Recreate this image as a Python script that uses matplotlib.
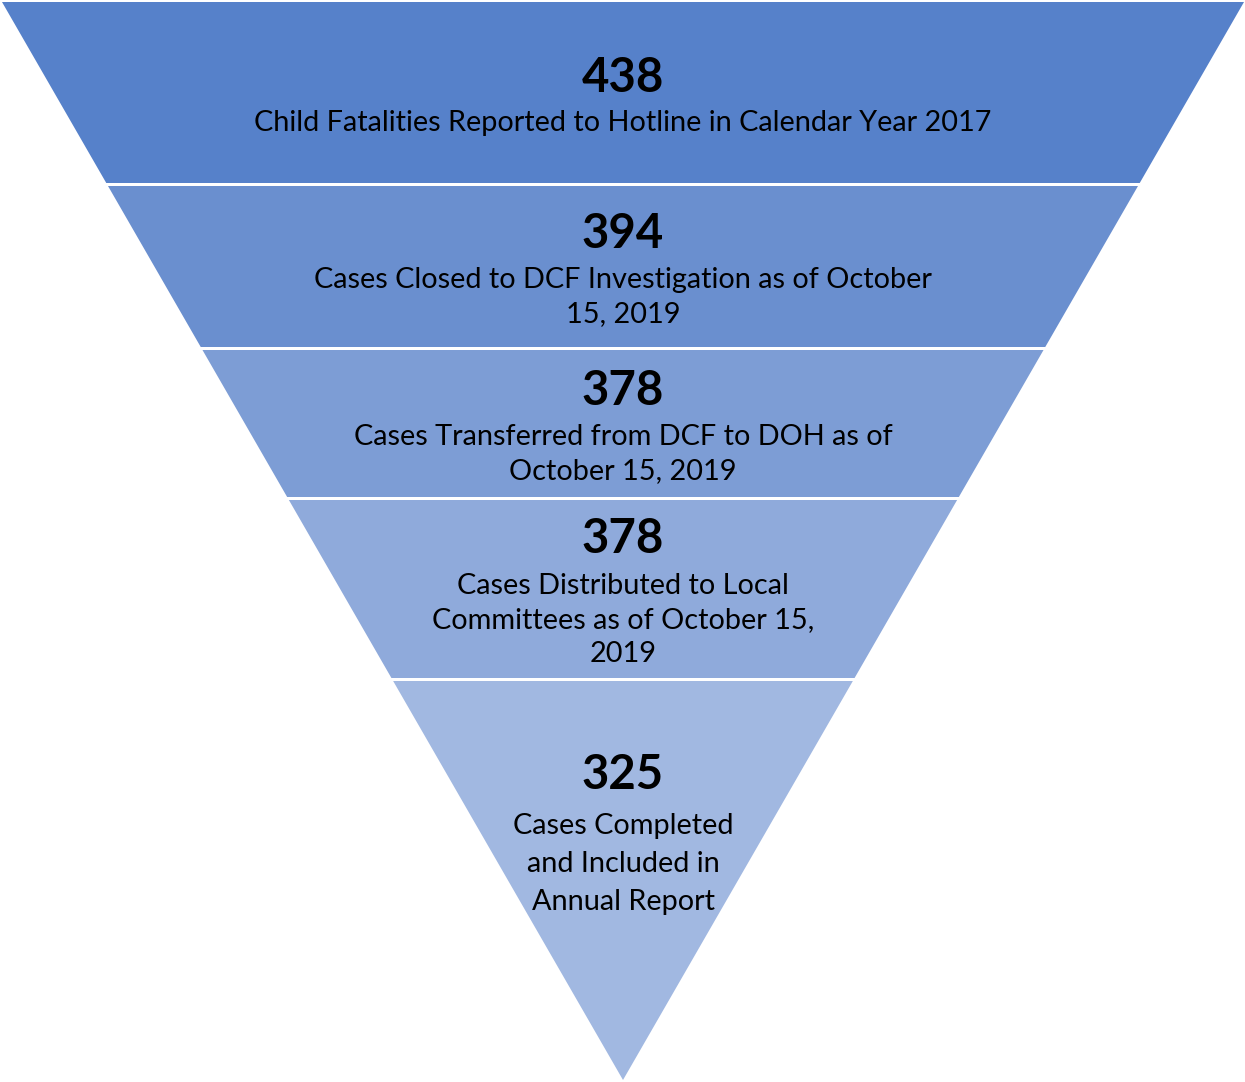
import matplotlib.pyplot as plt
from matplotlib.patches import Polygon

# funnel data
values = [438, 394, 378, 378, 325]
labels = [
    'Child Fatalities Reported to Hotline in Calendar Year 2017',
    'Cases Closed to DCF Investigation as of October\n15, 2019',
    'Cases Transferred from DCF to DOH as of\nOctober 15, 2019',
    'Cases Distributed to Local\nCommittees as of October 15,\n2019',
    'Cases Completed\nand Included in\nAnnual Report',
]
colors = ['#5681CA', '#6A8FCF', '#7D9DD5', '#8FAADB', '#A1B8E1']

# layout (pixels)
W, H = 1245, 1082
top_y, apex_y = 2, 1080
left_x, right_x, apex_x = 2, 1244, 623
cuts = [2, 184.5, 348.5, 498.5, 679.5, 1080]
gap = 3
num_y = [78, 234, 391, 539, 775]
lab_y = [123, 297, 454, 620, 864]
lab_sp = [1.4, 1.4, 1.4, 1.4, 1.56]

plt.rcParams['font.family'] = ['Lato', 'DejaVu Sans']

fig = plt.figure(figsize=(W / 100, H / 100), dpi=100)
ax = fig.add_axes([0, 0, 1, 1])
ax.set_xlim(0, W)
ax.set_ylim(H, 0)
ax.axis('off')


def half_width(y):
    return (apex_x - left_x) * (apex_y - y) / (apex_y - top_y)


for i in range(len(values)):
    y0 = cuts[i] + (gap / 2 if i > 0 else 0)
    y1 = cuts[i + 1] - (gap / 2 if i < len(values) - 1 else 0)
    w0, w1 = half_width(y0), half_width(y1)
    pts = [(apex_x - w0, y0), (apex_x + w0, y0), (apex_x + w1, y1), (apex_x - w1, y1)]
    ax.add_patch(Polygon(pts, closed=True, facecolor=colors[i], edgecolor='none'))
    ax.text(apex_x, num_y[i], str(values[i]), ha='center', va='center',
            fontsize=34, fontweight='bold', color='black')
    ax.text(apex_x, lab_y[i], labels[i], ha='center', va='center',
            fontsize=20.8, color='black', linespacing=lab_sp[i])

fig.savefig('out.png', dpi=100)
